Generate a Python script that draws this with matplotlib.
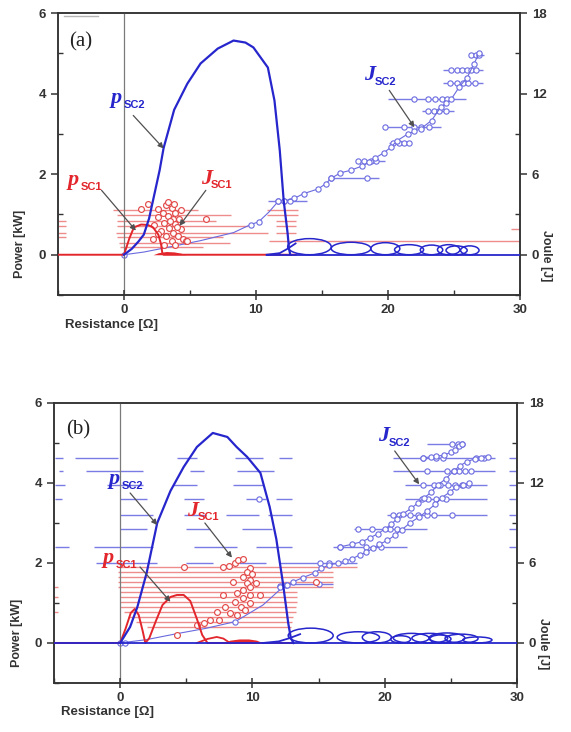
import matplotlib.pyplot as plt
from matplotlib.patches import Ellipse
from matplotlib.ticker import MultipleLocator

plt.rcParams.update({
    "font.family": ["Liberation Sans", "DejaVu Sans"],
    "font.weight": "bold",
    "axes.linewidth": 1.1,
})

BLUE = "#2626cc"
BLUE_THIN = "#6a6ae0"
BLUE_BAR = "#7b7be6"
RED = "#e2262c"
RED_BAR = "#ee8c8c"
ARROW = "#505050"
AXIS = "#333333"
MS = 3.8

# ---- panel (a) ----
A_PSC2_R = [0, 0.6, 1.1, 1.5, 1.9, 2.3, 2.7, 3.0, 3.8, 4.8, 5.8, 7.1, 8.3, 9.2, 9.8,
            10.9, 11.4, 11.8, 12.1, 12.4, 12.5, 12.6]
A_PSC2_P = [0, 0.15, 0.33, 0.5, 0.9, 1.5, 2.1, 2.65, 3.6, 4.25, 4.75, 5.12, 5.32, 5.27, 5.15,
            4.65, 3.83, 2.6, 1.34, 0.52, 0.15, 0.0]
A_PSC2_LOW_R = [10.8, 11.8, 12.4, 13.0]
A_PSC2_LOW_P = [0, 0.04, 0.15, 0.28]
A_BASE_R = [10.8, 30.0]
A_BASE_P = [0, 0]

A_PSC1_R = [-5, 0, 0.4, 0.75, 1.3, 1.8, 2.2, 2.6, 2.8, 2.9, 3.0, 13.0]
A_PSC1_P = [0, 0, 0.4, 0.68, 0.75, 0.74, 0.68, 0.5, 0.27, 0.05, 0, 0]
A_MOUND_R = [2.2, 2.6, 3.2, 3.8, 4.3, 4.7]
A_MOUND_P = [0, 0.05, 0.08, 0.07, 0.04, 0]

A_LOOP_C = [14.05, 17.2, 19.8, 21.6, 23.3, 24.6, 25.2, 26.2]
A_LOOP_W = [3.3, 3.0, 2.2, 2.2, 1.7, 1.7, 1.6, 1.4]
A_LOOP_H = [0.40, 0.31, 0.30, 0.25, 0.24, 0.25, 0.22, 0.22]

A_JTHIN_R = [0, 1.5, 3.3, 5.8, 8.3, 9.6, 10.2, 11.0, 11.7]
A_JTHIN_J = [0, 0.2, 0.55, 1.05, 1.65, 2.25, 2.45, 3.2, 4.0]
A_JMARK_R = [0, 9.6, 10.2]
A_JMARK_J = [0, 2.25, 2.45]

A_JSC2_R = [11.7, 12.1, 12.9, 13.6, 14.7, 15.3, 15.7, 16.4, 17.2, 18.0, 18.6, 19.0, 19.7,
            20.2, 20.7, 21.5, 22.0, 22.5, 23.3, 24.0, 24.4, 24.8, 25.4, 26.0, 26.5, 26.9]
A_JSC2_J = [4.0, 4.0, 4.2, 4.55, 4.9, 5.3, 5.7, 6.1, 6.3, 6.6, 6.9, 7.2, 7.6,
            8.0, 8.5, 9.0, 9.2, 9.4, 10.0, 11.0, 11.3, 11.6, 12.5, 13.2, 14.2, 15.0]

A_ROW_J = [14.85, 13.8, 12.8, 11.6, 10.7, 9.5, 8.35, 7.0, 5.7, 4.0]
A_ROW_SEGS = [
    [(26.2, 27.3)],
    [(24.2, 27.2)],
    [(24.2, 27.2)],
    [(20.0, 25.9)],
    [(22.6, 25.0)],
    [(19.7, 24.0)],
    [(20.1, 21.7)],
    [(17.6, 19.8)],
    [(15.7, 19.3)],
    [(10.9, 13.9)],
]
A_ROW_PTS = [
    [26.3, 26.7, 26.9],
    [24.8, 25.2, 25.6, 26.0, 26.3, 26.7],
    [24.7, 25.2, 25.7, 26.1, 26.6],
    [22.0, 23.0, 23.6, 24.1, 24.5],
    [23.0, 23.5, 23.9, 24.4],
    [19.8, 21.2, 22.0, 22.5, 23.1],
    [20.4, 20.8, 21.2, 21.6],
    [17.7, 18.2, 18.7, 19.1],
    [15.7, 18.4],
    [11.7, 12.1, 12.6],
]

A_JSC1_R = [1.3, 1.8, 2.6, 3.2, 3.3, 3.6, 3.8, 4.3, 2.95, 3.9, 3.3, 2.6, 3.7, 4.2, 6.2,
            3.0, 3.9, 2.3, 3.4, 4.3, 2.8, 3.7, 3.2, 4.1, 4.5, 3.6, 3.0, 3.9, 4.7, 2.6,
            4.8, 2.2, 3.5, 4.0]
A_JSC1_J = [3.4, 3.8, 3.4, 3.7, 3.9, 3.5, 3.8, 3.3, 3.1, 3.1, 2.9, 2.8, 2.7, 2.7, 2.7,
            2.4, 2.3, 2.2, 2.0, 1.9, 1.8, 1.65, 1.4, 1.4, 1.2, 1.05, 0.7, 0.7, 1.05, 1.55,
            1.0, 1.2, 2.55, 2.05]
A_RBAR_J = [3.35, 2.95, 2.55, 2.15, 1.65, 1.3, 0.9, 0.6, 1.04, 1.94]
A_RBAR_SEGS = [
    [(-0.8, 5.6), (10.8, 13.2)],
    [(-0.5, 8.1), (10.8, 13.2)],
    [(-5.0, -4.4), (-0.5, 7.0), (11.5, 13.0)],
    [(-5.0, -4.4), (-0.5, 9.4), (11.5, 13.0)],
    [(-5.0, -4.4), (-0.6, 10.9), (11.5, 13.0)],
    [(-5.0, -4.4), (-0.5, 7.5)],
    [(-0.4, 8.0)],
    [(-0.3, 6.0)],
    [(11.0, 30.0)],
    [(29.3, 30.0)],
]

# ---- panel (b) ----
B_PSC2_R = [0, 0.75, 1.3, 2.0, 2.8, 3.8, 4.8, 5.8, 7.0, 8.1, 8.8, 9.6, 10.6, 11.3, 11.8,
            12.3, 12.7, 12.9, 13.1]
B_PSC2_P = [0, 0.4, 0.9, 1.75, 3.0, 3.8, 4.4, 4.9, 5.25, 5.15, 4.9, 4.65, 4.25, 3.4, 2.6,
            1.5, 0.5, 0.12, 0.0]
B_PSC2_LOW_R = [10.8, 12.0, 12.8, 13.6]
B_PSC2_LOW_P = [0, 0.04, 0.12, 0.22]
B_BASE_R = [-5.0, 30.0]
B_BASE_P = [0, 0]

B_PSC1_R = [-5, 0, 0.4, 0.8, 1.1, 1.4, 1.7, 1.9, 2.2, 2.7, 3.2, 3.8, 4.3, 4.8, 5.3, 5.8,
            6.2, 6.6, 13.0]
B_PSC1_P = [0, 0, 0.35, 0.75, 0.85, 0.7, 0.3, 0, 0.12, 0.55, 0.95, 1.15, 1.2, 1.2, 1.05,
            0.6, 0.2, 0, 0]
B_PSC1_TAIL_R = [5.8, 6.6, 7.3, 7.8, 8.3]
B_PSC1_TAIL_P = [0, 0.1, 0.15, 0.11, 0]
B_MOUND_R = [7.8, 8.3, 9.0, 9.7, 10.3, 10.8]
B_MOUND_P = [0, 0.07, 0.1, 0.1, 0.07, 0]

B_LOOP_C = [14.4, 18.0, 19.4, 22.0, 23.4, 24.7, 25.8, 27.0, 21.2, 24.2]
B_LOOP_W = [3.4, 3.2, 2.2, 2.7, 2.7, 2.7, 2.5, 2.2, 1.5, 1.6]
B_LOOP_H = [0.37, 0.28, 0.28, 0.24, 0.24, 0.25, 0.22, 0.15, 0.18, 0.20]

B_JTHIN_R = [0, 2.0, 4.3, 6.5, 8.7, 10.8, 12.3]
B_JTHIN_J = [0, 0.25, 0.7, 1.1, 1.6, 2.85, 4.2]
B_JMARK_R = [0, 0.4, 8.7, 12.1, 12.5]
B_JMARK_J = [0, 0, 1.6, 4.3, 4.35]

B_CHAIN1_R = [12.1, 12.6, 13.1, 13.8, 14.7, 15.2, 15.8, 16.5, 17.0, 17.5, 18.1, 18.6,
              19.1, 19.6, 20.2, 20.8, 21.3, 21.9, 22.6, 23.2, 23.8, 24.3, 24.9, 25.4,
              25.9, 26.4]
B_CHAIN1_J = [4.2, 4.35, 4.6, 4.9, 5.25, 5.6, 5.85, 6.0, 6.15, 6.3, 6.6, 6.8,
              7.1, 7.4, 7.7, 8.1, 8.5, 9.0, 9.45, 9.9, 10.4, 10.9, 11.3, 11.7,
              11.85, 12.0]
B_CHAIN2_R = [16.6, 17.5, 18.3, 18.9, 19.5, 20.0, 20.5, 20.9, 21.4, 22.0, 22.5, 23.0,
              23.5, 24.0, 24.6, 25.2, 25.7, 26.2, 26.8, 27.3, 27.8]
B_CHAIN2_J = [7.2, 7.4, 7.6, 7.9, 8.2, 8.55, 8.9, 9.3, 9.7, 10.1, 10.5, 10.9,
              11.3, 11.85, 12.3, 12.9, 13.3, 13.6, 13.8, 13.9, 13.95]
B_CHAIN3_R = [22.9, 23.5, 23.9, 24.5, 25.0, 25.3, 25.6, 25.8]
B_CHAIN3_J = [13.9, 13.95, 14.0, 14.1, 14.3, 14.5, 14.8, 14.95]

B_ROW_J = [14.95, 13.9, 12.9, 11.85, 10.8, 9.6, 8.55, 7.2, 6.0, 4.4]
B_ROW_SEGS = [
    [(23.2, 25.8)],
    [(-4.9, -4.3), (-3.4, -0.2), (4.3, 5.8), (8.7, 10.8), (12.0, 13.0), (20.6, 28.3), (29.4, 30.0)],
    [(-4.6, -4.3), (-2.6, 1.7), (5.3, 6.3), (8.8, 11.6), (20.6, 28.3), (29.4, 30.0)],
    [(-4.9, -4.2), (-1.0, 1.7), (4.0, 5.8), (8.5, 10.8), (21.5, 27.7), (29.4, 30.0)],
    [(-4.9, -4.4), (0.0, 2.0), (4.8, 6.3), (9.5, 11.0), (11.8, 13.0), (21.5, 27.7), (29.4, 30.0)],
    [(0.0, 2.5), (4.8, 6.5), (8.0, 10.5), (11.2, 13.0), (20.2, 27.7), (29.4, 30.0)],
    [(0.0, 2.0), (5.0, 6.8), (9.2, 11.5), (17.7, 23.2), (29.4, 30.0)],
    [(-4.9, -3.9), (-2.0, 2.5), (5.6, 8.8), (10.3, 13.0), (16.1, 21.7), (29.4, 30.0)],
    [(-1.8, 2.8), (5.0, 7.0), (9.0, 11.0), (12.1, 17.9)],
    [(12.1, 16.1)],
]
B_ROW_PTS = [
    [25.1, 25.5, 25.8],
    [22.9, 23.9, 24.4, 26.9, 27.5],
    [23.2, 24.7, 25.2, 25.6, 26.1, 26.5],
    [22.9, 23.7, 24.2, 24.8, 25.3, 25.8, 26.3],
    [10.5, 22.8, 23.3, 23.9, 24.6],
    [20.6, 21.1, 21.9, 22.5, 23.2, 23.7, 25.1],
    [18.0, 19.0, 20.4, 20.9],
    [16.6, 18.6, 19.7],
    [15.1, 15.8],
    [15.0],
]

B_JSC1_R = [4.8, 7.8, 8.2, 8.7, 8.9, 9.3, 9.8, 9.6, 10.0, 9.3, 9.8, 8.5, 9.6, 10.3, 9.8,
            9.3, 8.8, 7.8, 9.8, 10.6, 9.3, 8.7, 9.8, 7.9, 9.1, 9.4, 7.3, 8.3, 8.8, 6.8,
            7.5, 6.3, 5.8, 4.3, 14.8]
B_JSC1_J = [5.7, 5.7, 5.8, 6.0, 6.2, 6.3, 5.6, 5.3, 5.2, 4.95, 4.7, 4.6, 4.5, 4.5, 4.2,
            4.0, 3.75, 3.6, 3.6, 3.6, 3.4, 3.1, 3.0, 2.7, 2.7, 2.5, 2.3, 2.25, 2.1, 1.7,
            1.7, 1.5, 1.35, 0.6, 4.6]
B_RBAR_J = [5.7, 5.3, 4.95, 4.6, 4.2, 3.8, 3.45, 3.1, 2.7, 2.3, 1.95, 1.6, 1.2]
B_RBAR_SEGS = [
    [(-0.2, 17.9)],
    [(-0.2, 16.1)],
    [(-0.2, 16.1)],
    [(-0.2, 16.1)],
    [(-5.0, -4.7), (-0.2, 16.1)],
    [(0.0, 13.4)],
    [(-5.0, -4.7), (0.0, 13.4)],
    [(0.0, 13.4)],
    [(0.0, 13.3)],
    [(-5.0, -4.7), (0.3, 13.3)],
    [(0.6, 13.1)],
    [(1.2, 13.0)],
    [(2.0, 12.9)],
]


def style_axes(ax, jx, label_x):
    ax.set_xlim(-5, 30)
    ax.set_ylim(-1, 6)
    jx.set_ylim(-3, 18)
    ax.xaxis.set_major_locator(MultipleLocator(10))
    ax.xaxis.set_minor_locator(MultipleLocator(5))
    ax.yaxis.set_major_locator(MultipleLocator(2))
    ax.yaxis.set_minor_locator(MultipleLocator(1))
    jx.yaxis.set_major_locator(MultipleLocator(6))
    jx.yaxis.set_minor_locator(MultipleLocator(3))
    for a in (ax, jx):
        for spine in a.spines.values():
            spine.set_color(AXIS)
            spine.set_linewidth(1.1)
    ax.tick_params(axis="x", which="major", direction="inout", length=7, width=1.1,
                   labelsize=9.5, colors=AXIS, pad=3)
    ax.tick_params(axis="y", which="major", direction="out", length=5, width=1.1,
                   labelsize=9.5, colors=AXIS)
    ax.tick_params(which="minor", direction="in", length=3.5, width=1.0, colors=AXIS)
    jx.tick_params(axis="y", which="major", direction="out", length=5, width=1.1,
                   labelsize=9.5, colors=AXIS)
    jx.tick_params(axis="y", which="minor", direction="in", length=3.5, width=1.0,
                   colors=AXIS)
    ax.axvline(0, color="#7a7a7a", lw=0.9, zorder=0)

    ax.set_xlabel("Resistance [Ω]", fontsize=9.5, fontweight="bold", color=AXIS,
                  ha="center", va="center")
    ax.xaxis.set_label_coords(0.115, -0.105)
    ax.set_ylabel("Power [kW]", fontsize=9, fontweight="bold", color=AXIS,
                  ha="center", va="center")
    ax.yaxis.set_label_coords(label_x, 0.18)
    jx.set_ylabel("Joule [J]", fontsize=9, fontweight="bold", color=AXIS, rotation=270,
                  ha="center", va="center")
    jx.yaxis.set_label_coords(1.056, 0.14)


def tag(ax, pos, main, sub, color, tail, tip, sub_dx):
    ax.text(pos[0], pos[1], main, color=color, fontsize=16, fontstyle="italic",
            fontweight="bold", family="Liberation Serif", va="baseline", zorder=6)
    ax.annotate(sub, xy=pos, xytext=(sub_dx, -3.5), textcoords="offset points",
                color=color, fontsize=8, fontweight="bold", va="baseline", zorder=6)
    ax.annotate("", xy=tip, xytext=tail, zorder=6,
                arrowprops=dict(arrowstyle="-|>", color=ARROW, lw=0.9,
                                mutation_scale=8, shrinkA=0, shrinkB=0))


def hbars(jx, levels, segments, color):
    for level, segs in zip(levels, segments):
        for lo, hi in segs:
            jx.hlines(level, lo, hi, color=color, lw=1.0, zorder=1)


def rows(jx, levels, segments, points):
    hbars(jx, levels, segments, BLUE_BAR)
    for level, xs in zip(levels, points):
        jx.plot(xs, [level] * len(xs), "o", ms=MS, mfc="white", mec=BLUE_THIN,
                mew=0.8, zorder=3)


def loops(ax, centres, widths, heights):
    for c, w, h in zip(centres, widths, heights):
        ax.add_patch(Ellipse((c, h / 2), w, h, fill=False, ec=BLUE, lw=1.1, zorder=4))


def chain(jx, r, j, color):
    jx.plot(r, j, "-o", color=color, lw=0.8, ms=MS, mfc="white", mec=color,
            mew=0.8, zorder=3)


fig = plt.figure(figsize=(5.71, 7.32), dpi=100)

# (a)
ax_a = fig.add_axes([0.1016, 0.597, 0.809, 0.385])
jx_a = ax_a.twinx()
ax_a.set_zorder(jx_a.get_zorder() + 1)
ax_a.patch.set_visible(False)

hbars(jx_a, A_RBAR_J, A_RBAR_SEGS, RED_BAR)
rows(jx_a, A_ROW_J, A_ROW_SEGS, A_ROW_PTS)
jx_a.plot(A_JTHIN_R, A_JTHIN_J, color=BLUE_THIN, lw=0.8, zorder=2)
jx_a.plot(A_JMARK_R, A_JMARK_J, "o", ms=MS, mfc="white", mec=BLUE_THIN, mew=0.8, zorder=3)
chain(jx_a, A_JSC2_R, A_JSC2_J, BLUE_THIN)
jx_a.plot(A_JSC1_R, A_JSC1_J, "o", ms=4.2, mfc="white", mec="#e34a4a", mew=0.85, zorder=3)

ax_a.plot(A_PSC1_R, A_PSC1_P, color=RED, lw=1.4, zorder=4)
ax_a.fill_between(A_MOUND_R, A_MOUND_P, 0, color=RED, lw=0, zorder=4)
ax_a.plot(A_BASE_R, A_BASE_P, color=BLUE, lw=1.3, zorder=4)
ax_a.plot(A_PSC2_R, A_PSC2_P, color=BLUE, lw=1.6, zorder=5)
ax_a.plot(A_PSC2_LOW_R, A_PSC2_LOW_P, color=BLUE, lw=1.3, zorder=4)
loops(ax_a, A_LOOP_C, A_LOOP_W, A_LOOP_H)

style_axes(ax_a, jx_a, -0.082)
ax_a.plot([0.013, 0.087], [0.989, 0.989], transform=ax_a.transAxes, color="#b5b5b5", lw=1.0)
ax_a.text(0.024, 0.897, "(a)", transform=ax_a.transAxes, fontsize=15, fontweight="normal",
          family="Liberation Serif", color="#222222", va="center")

tag(ax_a, (-1.0, 3.76), "p", "SC2", BLUE, (0.7, 3.46), (3.0, 2.64), 9.5)
tag(ax_a, (-4.25, 1.72), "p", "SC1", RED, (-1.7, 1.6), (0.9, 0.6), 9.5)
tag(jx_a, (5.8, 5.3), "J", "SC1", RED, (6.2, 4.8), (4.2, 2.15), 7.5)
tag(jx_a, (18.2, 13.0), "J", "SC2", BLUE, (20.1, 12.25), (22.0, 9.5), 7.5)

# (b)
ax_b = fig.add_axes([0.0946, 0.067, 0.811, 0.3825])
jx_b = ax_b.twinx()
ax_b.set_zorder(jx_b.get_zorder() + 1)
ax_b.patch.set_visible(False)

hbars(jx_b, B_RBAR_J, B_RBAR_SEGS, RED_BAR)
rows(jx_b, B_ROW_J, B_ROW_SEGS, B_ROW_PTS)
jx_b.plot(B_JTHIN_R, B_JTHIN_J, color=BLUE_THIN, lw=0.8, zorder=2)
jx_b.plot(B_JMARK_R, B_JMARK_J, "o", ms=MS, mfc="white", mec=BLUE_THIN, mew=0.8, zorder=3)
chain(jx_b, B_CHAIN1_R, B_CHAIN1_J, BLUE_THIN)
chain(jx_b, B_CHAIN2_R, B_CHAIN2_J, BLUE_THIN)
chain(jx_b, B_CHAIN3_R, B_CHAIN3_J, BLUE_THIN)
jx_b.plot(B_JSC1_R, B_JSC1_J, "o", ms=4.2, mfc="white", mec="#e34a4a", mew=0.85, zorder=3)

ax_b.plot(B_PSC1_R, B_PSC1_P, color=RED, lw=1.4, zorder=4)
ax_b.plot(B_PSC1_TAIL_R, B_PSC1_TAIL_P, color=RED, lw=1.3, zorder=4)
ax_b.fill_between(B_MOUND_R, B_MOUND_P, 0, color=RED, lw=0, zorder=4)
ax_b.plot(B_BASE_R, B_BASE_P, color=BLUE, lw=1.3, zorder=4)
ax_b.plot(B_PSC2_R, B_PSC2_P, color=BLUE, lw=1.6, zorder=5)
ax_b.plot(B_PSC2_LOW_R, B_PSC2_LOW_P, color=BLUE, lw=1.3, zorder=4)
loops(ax_b, B_LOOP_C, B_LOOP_W, B_LOOP_H)

style_axes(ax_b, jx_b, -0.08)
ax_b.text(0.026, 0.904, "(b)", transform=ax_b.transAxes, fontsize=15, fontweight="normal",
          family="Liberation Serif", color="#222222", va="center")

tag(ax_b, (-0.9, 3.98), "p", "SC2", BLUE, (0.75, 3.75), (2.8, 2.95), 9.5)
tag(jx_b, (5.05, 9.55), "J", "SC1", RED, (6.4, 9.0), (8.45, 6.4), 7.5)
tag(ax_b, (-1.3, 2.0), "p", "SC1", RED, (1.5, 1.9), (3.8, 1.03), 9.5)
tag(jx_b, (19.5, 15.15), "J", "SC2", BLUE, (20.75, 14.4), (22.6, 11.9), 7.5)

fig.savefig("out.png", dpi=100, facecolor="white")
